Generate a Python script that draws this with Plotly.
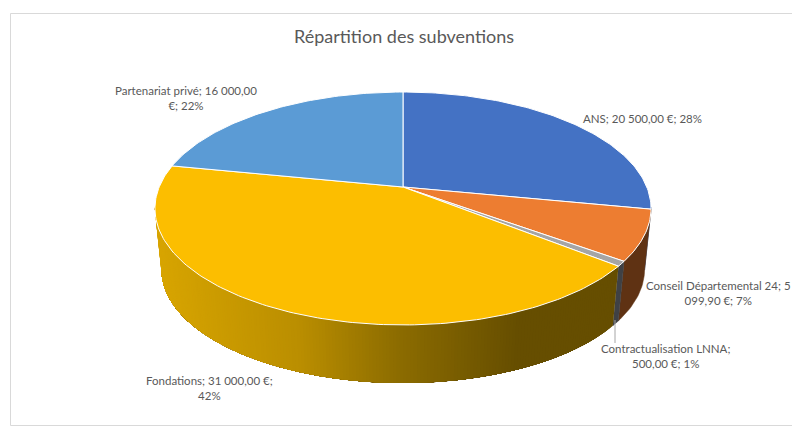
import math
import plotly.graph_objects as go

# ---- data ----
categories = ["ANS", "Conseil Départemental 24", "Contractualisation LNNA", "Fondations", "Partenariat privé"]
values = [20500.00, 5099.90, 500.00, 31000.00, 16000.00]
value_labels = ["20\u202f500,00\u202f€", "5\u202f099,90\u202f€", "500,00\u202f€", "31\u202f000,00\u202f€", "16\u202f000,00\u202f€"]
percent_labels = ["28%", "7%", "1%", "42%", "22%"]
top_colors = ["#4472C4", "#ED7D31", "#A5A5A5", "#FCBE00", "#5B9BD5"]
wall_colors = ["#294476", "#5F3213", "#3F4145", "#665000", "#2C5F8C"]
title_text = "Répartition des subventions"

# ---- projection of the pie disc (perspective, as in the spreadsheet 3-D pie) ----
CX = 403.0
TOP = dict(cy=187.0, rx=243.8, ry=112.5)
BOT = dict(cy=248.6, rx=237.4, ry=109.6)
K = 0.1845


def project(deg, disc):
    t = math.radians(deg)
    u, v = math.sin(t), math.cos(t)
    w = 1 + K * v
    return CX + disc["rx"] * u / w, disc["cy"] - disc["ry"] * v / w


def arc(a0, a1, disc, step=1.0):
    n = max(2, int(abs(a1 - a0) / step) + 1)
    return [project(a0 + (a1 - a0) * i / (n - 1), disc) for i in range(n)]


total = sum(values)
edges = [0.0]
for val in values:
    edges.append(edges[-1] + val / total * 360.0)

WALL_START = 100.0  # right extreme of the visible wall
WALL_END = 260.0    # left extreme of the visible wall


def mix(x):
    # horizontal shading of the Fondations wall
    stops = [(155, (216, 165, 0)), (300, (186, 142, 0)), (400, (140, 108, 0)), (520, (102, 78, 0)), (620, (102, 78, 0))]
    for (x0, c0), (x1, c1) in zip(stops, stops[1:]):
        if x <= x1:
            f = max(0.0, (x - x0) / (x1 - x0))
            return "rgb(%d,%d,%d)" % tuple(round(a + (b - a) * f) for a, b in zip(c0, c1))
    return "rgb(102,78,0)"


fig = go.Figure()


def poly(points, fill, line=None, width=0.0):
    xs = [p[0] for p in points] + [points[0][0]]
    ys = [p[1] for p in points] + [points[0][1]]
    fig.add_trace(go.Scatter(
        x=xs, y=ys, mode="lines", fill="toself", fillcolor=fill,
        line=dict(color=line or fill, width=width), hoverinfo="skip", showlegend=False))


# walls
for i in range(len(values)):
    a0 = max(edges[i], WALL_START)
    a1 = min(edges[i + 1], WALL_END)
    if a1 <= a0:
        continue
    if categories[i] == "Fondations":
        # strips overlap by drawing each one through to the far end, so no seams show
        n = int((a1 - a0) * 1.5)
        for j in range(n):
            s0 = a0 + (a1 - a0) * j / n
            p = arc(s0, a1, TOP, 1.0) + arc(a1, s0, BOT, 1.0)
            c = mix(project(s0, TOP)[0])
            poly(p, c, c, 0)
    else:
        poly(arc(a0, a1, TOP) + arc(a1, a0, BOT), wall_colors[i], wall_colors[i], 0.5)

# top faces
apex = (CX, TOP["cy"])
for i in range(len(values)):
    poly([apex] + arc(edges[i], edges[i + 1], TOP), top_colors[i], "#FFFFFF", 1.0)

ink = "#595959"
lines = [
    (f"{categories[0]}; {value_labels[0]}; {percent_labels[0]}", 642, 118),
    (f"{categories[1]}; 5<br>099,90\u202f€; {percent_labels[1]}", 718.5, 293),
    (f"{categories[2]};<br>{value_labels[2]}; {percent_labels[2]}", 665, 356),
    (f"{categories[3]}; {value_labels[3]};<br>{percent_labels[3]}", 209.5, 388),
    (f"{categories[4]}; 16\u202f000,00<br>€; {percent_labels[4]}", 186, 98),
]
annotations = [dict(x=x, y=y, text=t, showarrow=False, xref="x", yref="y", align="center",
                    font=dict(family="Lato", size=11.5, color=ink)) for t, x, y in lines]
annotations.append(dict(x=403.5, y=36, text=title_text, showarrow=False, xref="x", yref="y",
                        font=dict(family="Lato", size=18, color=ink)))

shapes = [
    dict(type="rect", x0=10.5, y0=13.5, x1=800, y1=425.5, xref="x", yref="y",
         line=dict(color="#D9D9D9", width=1), fillcolor="rgba(0,0,0,0)", layer="below"),
    dict(type="line", x0=615, y0=320, x1=615, y1=343, xref="x", yref="y",
         line=dict(color="#A6A6A6", width=1)),
]

fig.update_layout(
    width=792, height=428, margin=dict(l=0, r=0, t=0, b=0),
    paper_bgcolor="white", plot_bgcolor="white", showlegend=False,
    xaxis=dict(range=[0, 792], visible=False, fixedrange=True),
    yaxis=dict(range=[428, 0], visible=False, fixedrange=True),
    annotations=annotations, shapes=shapes,
)
fig.write_html(
    "out.html",
    config=dict(displayModeBar=False),
    post_script="document.body.style.margin='0';document.documentElement.style.overflow='hidden';",
)
